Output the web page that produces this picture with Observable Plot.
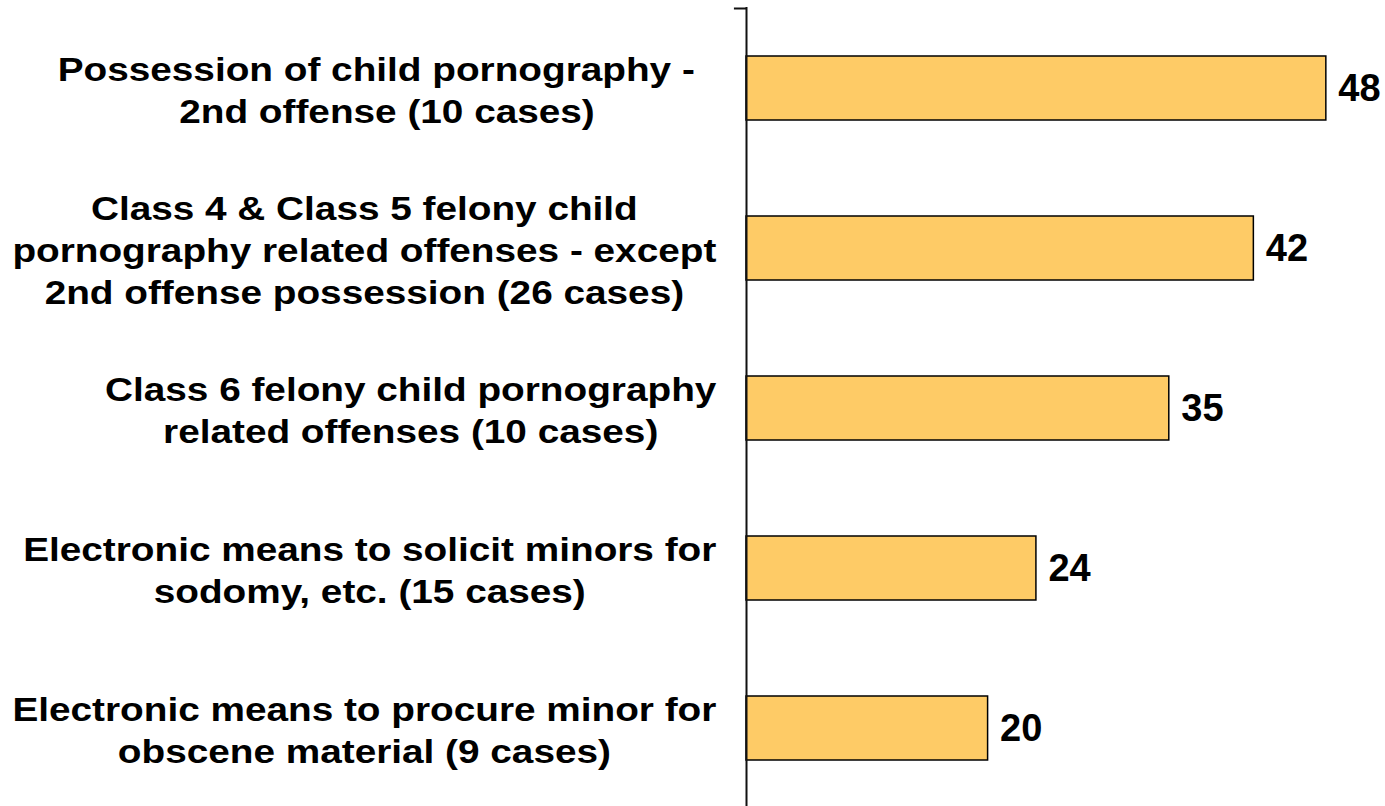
<!DOCTYPE html>
<html>
<head>
<meta charset="utf-8">
<script src="https://cdn.jsdelivr.net/npm/d3@7"></script>
<script src="https://cdn.jsdelivr.net/npm/@observablehq/plot@0.6"></script>
<style>
  html, body { margin: 0; padding: 0; background: #fff; }
  svg { font-family: "Liberation Sans", Arial, sans-serif; }
</style>
</head>
<body>
<div id="chart"></div>
<script>
const categories = [
  "Possession of child pornography -\u00a0\u00a0\n2nd offense (10 cases)",
  "Class 4 & Class 5 felony child\npornography related offenses - except\n2nd offense possession (26 cases)",
  "Class 6 felony child pornography\nrelated offenses (10 cases)",
  "Electronic means to solicit minors for\nsodomy, etc. (15 cases)",
  "Electronic means to procure minor for\nobscene material (9 cases)"
];
const values = [48, 42, 35, 24, 20];

const data = categories.map((c, i) => ({category: c, value: values[i]}));

const labelFont = 34;
const labelScaleX = 1.14;
const gap = 30;
const ctx = document.createElement("canvas").getContext("2d");
ctx.font = `bold ${labelFont}px "Liberation Sans", Arial, sans-serif`;
function blockWidth(s) {
  return d3.max(s.split("\n"), l => ctx.measureText(l).width) * labelScaleX;
}

const yPadInner = 0.6, yPadOuter = 0.3, yRange = [8, 808];
const yStep = (yRange[1] - yRange[0]) / (categories.length - yPadInner + 2 * yPadOuter);

const labelMarks = data.map(d => Plot.text([d], {
  x: () => 0,
  y: "category",
  text: "category",
  textAnchor: "middle",
  lineAnchor: "middle",
  lineHeight: 1.235,
  fontSize: labelFont,
  fontWeight: "bold",
  fill: "#000",
  dx: -(gap + blockWidth(d.category) / 2)
}));

const chart = Plot.plot({
  width: 1385,
  height: 806,
  marginLeft: 746,
  marginRight: 0,
  marginTop: 7,
  marginBottom: 0,
  style: {fontFamily: '"Liberation Sans", Arial, sans-serif', background: "#fff"},
  x: {domain: [0, 50], range: [746, 1350], axis: null},
  y: {domain: categories, range: yRange, paddingInner: yPadInner, paddingOuter: yPadOuter, axis: null},
  marks: [
    Plot.barX(data, {x: "value", y: "category", fill: "#FECB66", stroke: "#000", strokeWidth: 1.5}),
    Plot.ruleX([0], {stroke: "#111", strokeWidth: 2}),
    Plot.ruleY([categories[0]], {y: d => d, x1: -1, x2: 0, dy: -yStep / 2, stroke: "#111", strokeWidth: 2}),
    ...labelMarks,
    Plot.text(data, {x: "value", y: "category", text: d => String(d.value), textAnchor: "start", dx: 12, fontSize: 38, fontWeight: "bold", fill: "#000"})
  ]
});

// horizontally stretch the category labels
const groups = chart.querySelectorAll('g[aria-label="text"]');
groups.forEach((g, i) => {
  if (i === groups.length - 1) return;
  g.querySelectorAll("text").forEach(t => {
    const tr = t.getAttribute("transform") || "";
    t.setAttribute("transform", (tr + ` scale(${labelScaleX},1)`).trim());
  });
});

document.getElementById("chart").appendChild(chart);
</script>
</body>
</html>
